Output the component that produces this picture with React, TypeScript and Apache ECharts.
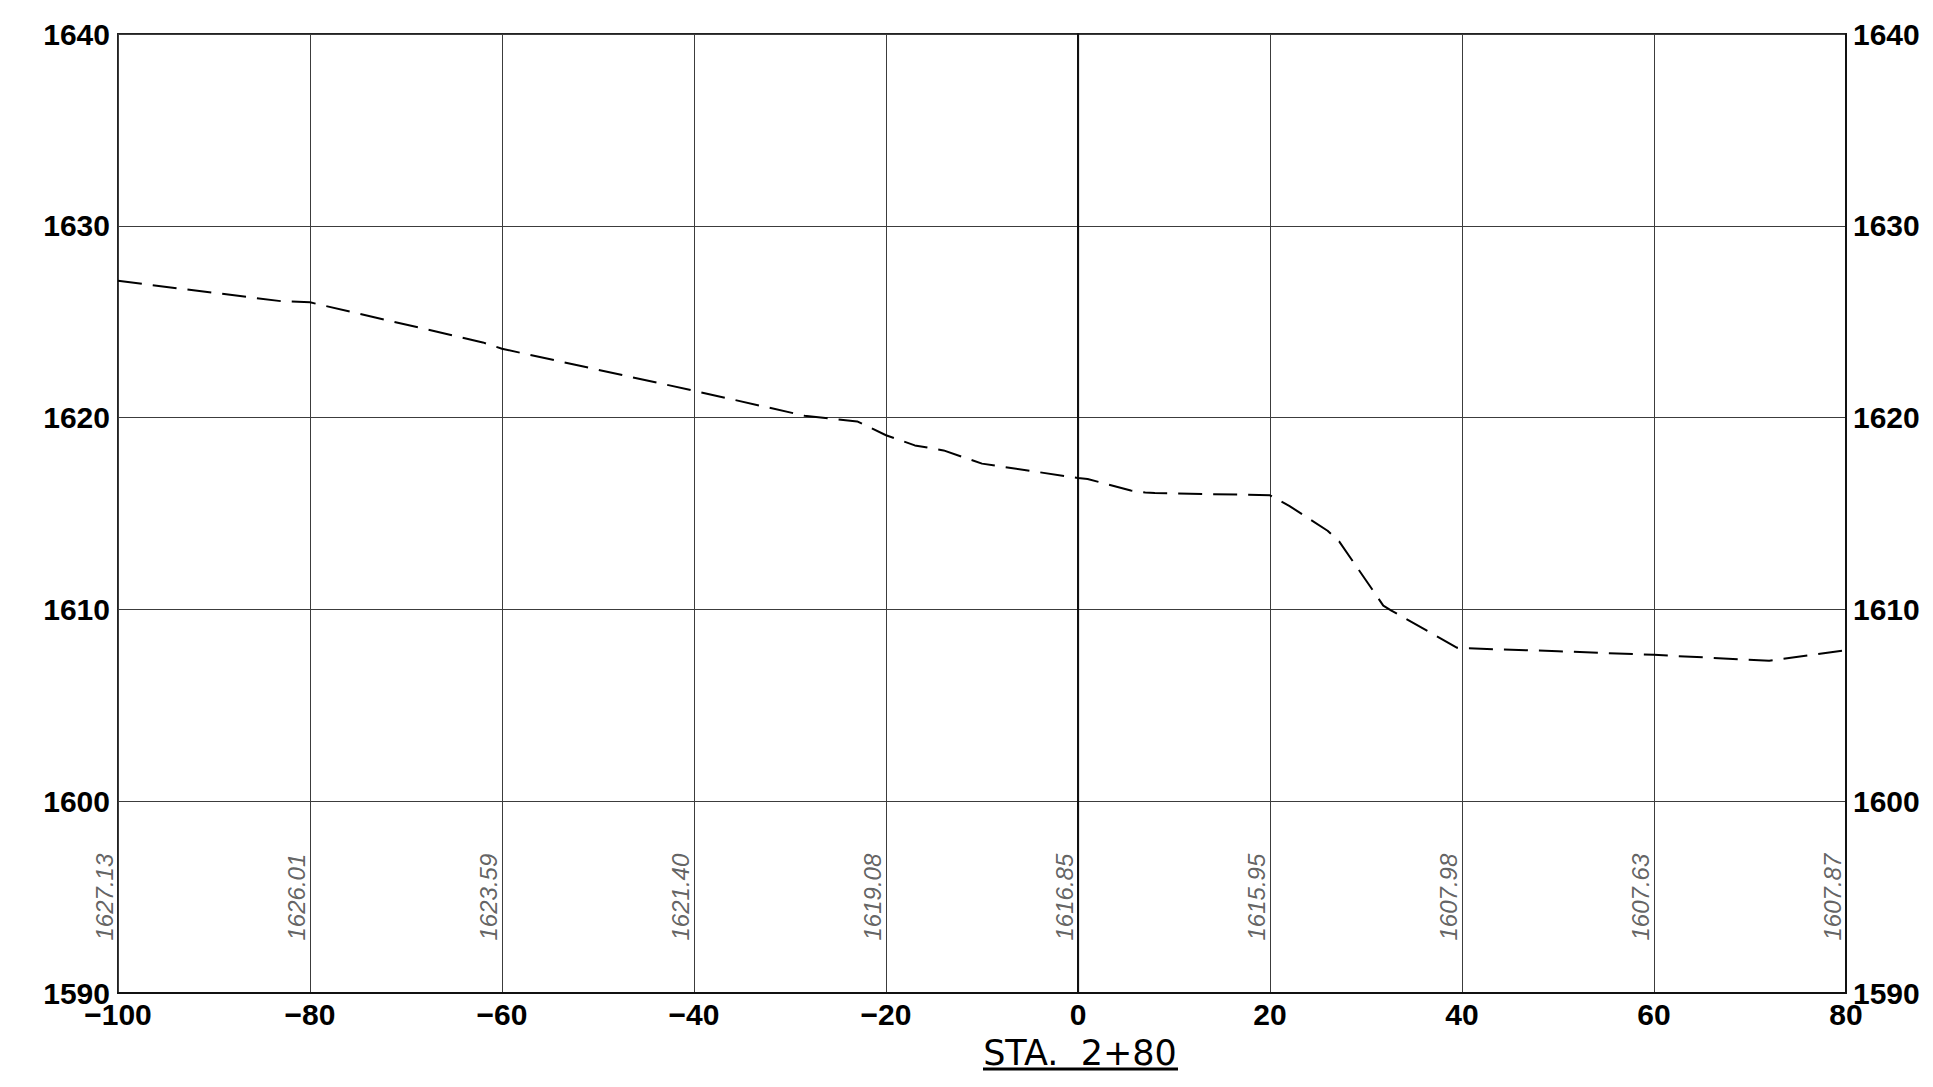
import React, { useEffect, useRef } from "react";
import * as echarts from "echarts";

// Ground profile (station offset, elevation)
const stations = [-100, -83, -80, -62, -60, -40, -28.5, -23, -20, -17, -14, -10, 0, 1, 5.5, 7, 8, 20, 22, 26, 27.2, 31.8, 32.6, 39.5, 40, 50, 60, 72, 80];
const elevations = [1627.13, 1626.07, 1626.01, 1623.92, 1623.59, 1621.4, 1620.1, 1619.8, 1619.08, 1618.55, 1618.29, 1617.6, 1616.85, 1616.8, 1616.2, 1616.1, 1616.07, 1615.95, 1615.4, 1614.1, 1613.55, 1610.2, 1609.95, 1608.0, 1607.98, 1607.82, 1607.63, 1607.32, 1607.87];

// Elevation annotations at every grid station
const labelStations = [-100, -80, -60, -40, -20, 0, 20, 40, 60, 80];
const labelElevations = ["1627.13", "1626.01", "1623.59", "1621.40", "1619.08", "1616.85", "1615.95", "1607.98", "1607.63", "1607.87"];
const labelRowElevation = 1595;

// Axes
const xMin = -100;
const xMax = 80;
const xStep = 20;
const yMin = 1590;
const yMax = 1640;
const yStep = 10;

const sectionTitle = "STA.  2+80";

const AXIS_FONT = "Liberation Sans";

export default function App() {
  const ref = useRef<HTMLDivElement>(null);

  useEffect(() => {
    if (!ref.current) return;
    const chart = echarts.init(ref.current, null, { renderer: "svg" });
    const axisLabel = {
      color: "#000",
      fontFamily: AXIS_FONT,
      fontWeight: "bold" as const,
      fontSize: 30,
    };
    const yAxisBase = {
      type: "value" as const,
      min: yMin,
      max: yMax,
      interval: yStep,
      axisTick: { show: false },
      axisLine: { show: true, lineStyle: { color: "#111", width: 2 } },
    };
    chart.setOption({
      animation: false,
      backgroundColor: "#fff",
      grid: {
        left: 118,
        right: 87,
        top: 34,
        bottom: 94,
        show: true,
        borderColor: "#222",
        borderWidth: 2,
      },
      xAxis: {
        type: "value",
        min: xMin,
        max: xMax,
        interval: xStep,
        axisTick: { show: false },
        axisLine: { show: true, onZero: false, lineStyle: { color: "#111", width: 2 } },
        splitLine: { show: true, lineStyle: { color: "#3c3c3c", width: 1 } },
        axisLabel: {
          ...axisLabel,
          margin: 6,
          formatter: (v: number) => (v < 0 ? "\u2212" + Math.abs(v) : String(v)),
        },
      },
      yAxis: [
        {
          ...yAxisBase,
          position: "left",
          splitLine: { show: true, lineStyle: { color: "#3c3c3c", width: 1 } },
          axisLabel: { ...axisLabel, margin: 8, formatter: (v: number) => String(v) },
        },
        {
          ...yAxisBase,
          position: "right",
          splitLine: { show: false },
          axisLabel: { ...axisLabel, margin: 7, formatter: (v: number) => String(v) },
        },
      ],
      series: [
        {
          type: "line",
          data: stations.map((s, i) => [s, elevations[i]]),
          showSymbol: false,
          symbol: "none",
          lineStyle: { color: "#000", width: 2, type: [24, 11] },
          z: 5,
          markLine: {
            silent: true,
            symbol: ["none", "none"],
            label: { show: false },
            lineStyle: { color: "#111", width: 1.2, type: "solid" },
            data: [{ xAxis: 0 }],
          },
        },
        {
          type: "scatter",
          data: labelStations.map((s, i) => [s, labelRowElevation, labelElevations[i]]),
          symbolSize: 1,
          itemStyle: { color: "rgba(0,0,0,0)" },
          silent: true,
          label: {
            show: true,
            position: "inside",
            rotate: 90,
            offset: [0, -14],
            align: "center",
            verticalAlign: "middle",
            formatter: (p: any) => p.data[2],
            fontFamily: AXIS_FONT,
            fontStyle: "italic",
            fontSize: 24,
            color: "#3a3a3a",
          },
        },
      ],
      graphic: [
        {
          type: "text",
          x: 1080,
          y: 1053,
          style: {
            text: sectionTitle,
            fontFamily: "DejaVu Sans",
            fontSize: 35,
            fill: "#000",
            align: "center",
            verticalAlign: "middle",
          },
        },
        {
          type: "line",
          shape: { x1: 983, y1: 1069, x2: 1178, y2: 1069 },
          style: { stroke: "#000", lineWidth: 3 },
        },
      ],
    });
    return () => chart.dispose();
  }, []);

  return (
    <div
      ref={ref}
      style={{ position: "fixed", left: 0, top: 0, width: "1933px", height: "1087px", background: "#fff" }}
    />
  );
}
